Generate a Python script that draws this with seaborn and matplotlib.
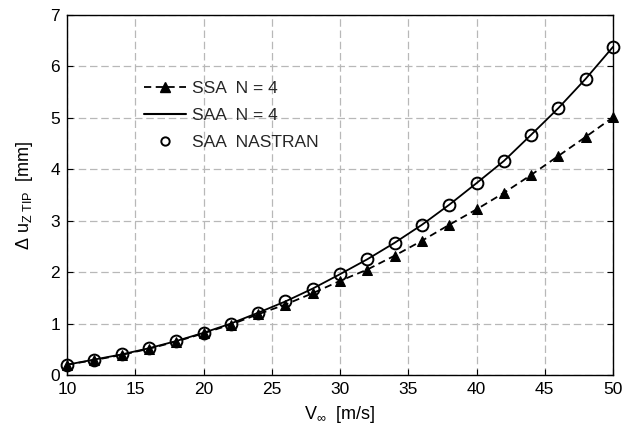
import matplotlib
matplotlib.use("Agg")
import matplotlib.pyplot as plt
from matplotlib.lines import Line2D
import seaborn as sns
import pandas as pd

speed = [10, 12, 14, 16, 18, 20, 22, 24, 26, 28, 30, 32, 34, 36, 38, 40, 42, 44, 46, 48, 50]
ssa_n4 = [0.20, 0.29, 0.39, 0.51, 0.65, 0.81, 0.98, 1.18, 1.37, 1.59, 1.83, 2.05, 2.32, 2.61, 2.92, 3.22, 3.54, 3.89, 4.26, 4.63, 5.01]
saa_n4 = [0.20, 0.30, 0.40, 0.52, 0.66, 0.82, 1.00, 1.21, 1.43, 1.68, 1.96, 2.25, 2.57, 2.92, 3.31, 3.73, 4.16, 4.67, 5.19, 5.76, 6.38]
saa_nastran = [0.20, 0.30, 0.40, 0.52, 0.66, 0.82, 1.00, 1.21, 1.43, 1.68, 1.96, 2.25, 2.57, 2.92, 3.31, 3.73, 4.16, 4.67, 5.19, 5.76, 6.38]

sns.set_theme(style="white")
plt.rcParams['font.family'] = ['Liberation Sans', 'DejaVu Sans']
plt.rcParams['mathtext.fontset'] = 'custom'
plt.rcParams['mathtext.rm'] = 'Liberation Sans'
plt.rcParams['mathtext.it'] = 'Liberation Sans'

df = pd.DataFrame({"V": speed, "ssa": ssa_n4, "saa": saa_n4, "nas": saa_nastran})

fig = plt.figure(figsize=(6.24, 4.33), dpi=100)
ax = fig.add_axes([0.1074, 0.134, 0.875, 0.8314])

sns.lineplot(data=df, x="V", y="nas", ax=ax, color="black", linestyle="none",
             marker="o", markersize=8.5, markerfacecolor="none", markeredgecolor="black",
             markeredgewidth=1.4, zorder=3, clip_on=False)
sns.lineplot(data=df, x="V", y="saa", ax=ax, color="black", linewidth=1.3, zorder=4)
sns.lineplot(data=df, x="V", y="ssa", ax=ax, color="black", linewidth=1.3,
             linestyle=(0, (4, 2.5)), marker="^", markersize=7.5, markeredgecolor="black",
             markerfacecolor="black", zorder=5, clip_on=False)

ax.set_xlim(10, 50)
ax.set_ylim(0, 7)
ax.set_xticks(range(10, 51, 5))
ax.set_yticks(range(0, 8))
ax.grid(True, color="#b8b8b8", linestyle=(0, (6, 3)), linewidth=0.9)
ax.tick_params(direction="in", length=4, width=0.8, labelsize=12.5, colors="black", pad=5,
               top=False, right=True, left=True, bottom=True)
for s in ax.spines.values():
    s.set_color("black")
    s.set_linewidth(1.0)

ax.set_xlabel(r"V$_\infty$  [m/s]", fontsize=13, color="black", labelpad=5)
ax.set_ylabel(r"Δ u$_{\rm Z\ TIP}$  [mm]", fontsize=13, color="black", labelpad=11)

handles = [
    Line2D([0], [0], color="black", linestyle=(0, (4, 2.5)), linewidth=1.3,
           marker="^", markersize=7, markerfacecolor="black"),
    Line2D([0], [0], color="black", linestyle="-", linewidth=1.5),
    Line2D([0], [0], color="black", linestyle="none", marker="o", markersize=6,
           markerfacecolor="none", markeredgewidth=1.4),
]
labels = ["SSA  N = 4", "SAA  N = 4", "SAA  NASTRAN"]
ax.legend(handles, labels, loc="upper left", bbox_to_anchor=(0.128, 0.835),
          frameon=False, fontsize=12.5, handlelength=2.4, labelspacing=0.68,
          handletextpad=0.35, borderaxespad=0)

fig.savefig("out.png", dpi=100)
